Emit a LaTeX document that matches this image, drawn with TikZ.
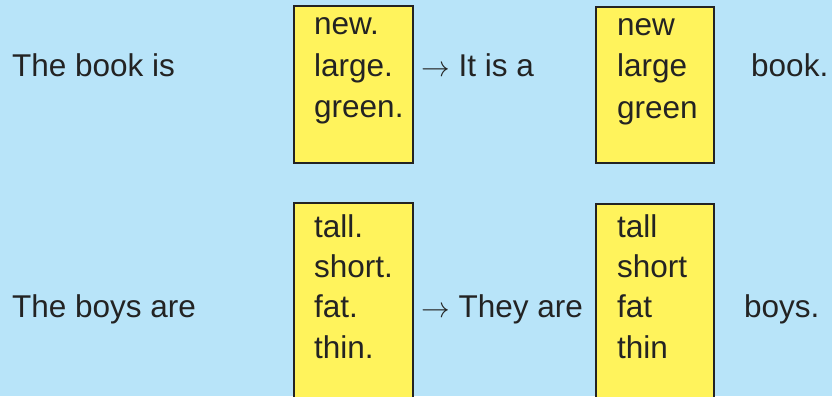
\documentclass[tikz,border=0pt]{standalone}
\usepackage{fontspec}
\usepackage{graphicx}
\setmainfont{Liberation Sans}
\definecolor{bgblue}{RGB}{184,228,249}
\definecolor{cardyellow}{RGB}{255,243,92}
\definecolor{inkdark}{RGB}{35,35,35}
\newcommand{\bigarrowmark}{\scalebox{1.15}{$\rightarrow$}}
\begin{document}
\begin{tikzpicture}[x=1pt,y=-1pt,
  word/.style={anchor=base west,inner sep=0pt,text=inkdark,font=\fontsize{31.5}{38}\selectfont},
  card/.style={draw=inkdark,line width=2.6pt,fill=cardyellow}]
\useasboundingbox (0,0) rectangle (832,396);
\clip (0,0) rectangle (832,396);
\fill[bgblue] (0,0) rectangle (832,396);
% cards
\draw[card] (294,6) rectangle (413,163);
\draw[card] (596,7) rectangle (714,163);
\draw[card] (294,203) rectangle (413,420);
\draw[card] (596,204) rectangle (714,420);
% row 1
\node[word] (s1) at (12,76) {The book is};
\node[word] (a1) at (314,35) {new.};
\node[word] (a2) at (314,76) {large.};
\node[word] (a3) at (314,117) {green.};
\node[word] (r1) at (421,76) {\bigarrowmark\ It is a};
\node[word] (b1) at (617,36) {new};
\node[word] (b2) at (617,77) {large};
\node[word] (b3) at (617,118) {green};
\node[word] (e1) at (751,76) {book.};
% row 2
\node[word] (s2) at (12,317) {The boys are};
\node[word] (c1) at (314,237) {tall.};
\node[word] (c2) at (314,277) {short.};
\node[word] (c3) at (314,317) {fat.};
\node[word] (c4) at (314,358) {thin.};
\node[word] (r2) at (421,317) {\bigarrowmark\ They are};
\node[word] (d1) at (617,237) {tall};
\node[word] (d2) at (617,277) {short};
\node[word] (d3) at (617,317) {fat};
\node[word] (d4) at (617,358) {thin};
\node[word] (e2) at (744,317) {boys.};
\end{tikzpicture}
\end{document}
